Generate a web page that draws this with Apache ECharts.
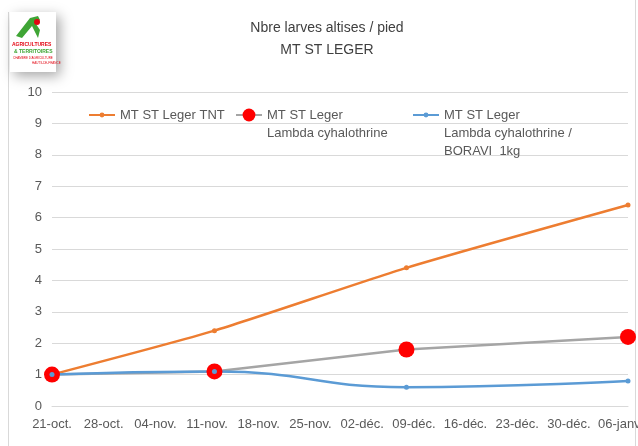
<!DOCTYPE html>
<html>
<head>
<meta charset="utf-8">
<script src="https://cdn.jsdelivr.net/npm/echarts@6/dist/echarts.min.js"></script>
<style>
  html, body { margin: 0; padding: 0; background: #fff; }
  #chart { width: 638px; height: 446px; }
</style>
</head>
<body>
<div id="chart"></div>
<script>
// ---- Data ----
const titleLines = ['Nbre larves altises / pied', 'MT ST LEGER'];
const xTickLabels = ['21-oct.', '28-oct.', '04-nov.', '11-nov.', '18-nov.', '25-nov.', '02-déc.', '09-déc.', '16-déc.', '23-déc.', '30-déc.', '06-janv.'];
const sampleDates = ['2019-10-21', '2019-11-12', '2019-12-08', '2020-01-07'];
const seriesNames = [
  'MT ST Leger TNT',
  'MT ST Leger\nLambda cyhalothrine',
  'MT ST Leger\nLambda cyhalothrine /\nBORAVI  1kg'
];
const tntValues = [1, 2.4, 4.4, 6.4];
const lambdaValues = [1, 1.1, 1.8, 2.2];
const boraviValues = [1, 1.1, 0.6, 0.8];
const yTicks = { min: 0, max: 10, interval: 1 };

// ---- Helpers ----
const DAY = 24 * 3600 * 1000;
const t0 = Date.parse(sampleDates[0]);
const dayOffsets = sampleDates.map(d => Math.round((Date.parse(d) - t0) / DAY));
const pairs = vals => vals.map((v, i) => [dayOffsets[i], v]);
const FONT = '"Liberation Sans Narrow", "Liberation Sans", sans-serif';

const chart = echarts.init(document.getElementById('chart'), null, { renderer: 'canvas' });

const legendBase = (idx, left, top, itemHeight, pre) => ({
  data: [seriesNames[idx]],
  left: left, top: top, padding: 0,
  itemWidth: 26, itemHeight: itemHeight,
  formatter: name => pre + name,
  textStyle: { fontFamily: FONT, fontSize: 13, color: '#595959', lineHeight: 18 },
  selectedMode: false
});

chart.setOption({
  animation: false,
  backgroundColor: '#fff',
  title: {
    text: titleLines.join('\n'),
    left: 322, top: 12, textAlign: 'center',
    textStyle: { fontFamily: FONT, fontSize: 14, fontWeight: 'normal', color: '#404040', lineHeight: 22 }
  },
  graphic: [
    { type: 'line', shape: { x1: 8.5, y1: 12, x2: 8.5, y2: 446 }, style: { stroke: '#D9D9D9', lineWidth: 1 }, z: -1 },
    { type: 'line', shape: { x1: 635.5, y1: 0, x2: 635.5, y2: 446 }, style: { stroke: '#D9D9D9', lineWidth: 1 }, z: -1 },
    {
      type: 'group', left: 10, top: 12, z: 10,
      children: [
        { type: 'rect', shape: { x: 0, y: 0, width: 46, height: 60 }, style: { fill: '#fff', shadowBlur: 12, shadowOffsetX: 4, shadowOffsetY: 4, shadowColor: 'rgba(0,0,0,0.35)' } },
        { type: 'polygon', shape: { points: [[6, 24], [20, 6], [28, 4], [30, 8], [26, 12], [30, 18], [28, 26], [22, 14], [12, 26]] }, style: { fill: '#3FA535' } },
        { type: 'circle', shape: { cx: 27, cy: 10, r: 3 }, style: { fill: '#E30613' } },
        { type: 'text', style: { x: 2, y: 30, text: 'AGRICULTURES', fontSize: 5, fontWeight: 'bold', fill: '#E30613', fontFamily: FONT } },
        { type: 'text', style: { x: 4, y: 37, text: '& TERRITOIRES', fontSize: 5, fontWeight: 'bold', fill: '#3FA535', fontFamily: FONT } },
        { type: 'text', style: { x: 3, y: 45, text: 'CHAMBRE D\'AGRICULTURE', fontSize: 3, fill: '#E30613', fontFamily: FONT } },
        { type: 'text', style: { x: 22, y: 50, text: 'HAUTS-DE-FRANCE', fontSize: 3, fill: '#E30613', fontFamily: FONT } }
      ]
    }
  ],
  legend: [
    legendBase(0, 88, 106, 6, ''),
    legendBase(1, 235, 88, 16, '\n'),
    legendBase(2, 412, 70, 6, '\n\n')
  ],
  grid: { left: 52, right: 10, top: 92, bottom: 40, containLabel: false, outerBoundsMode: 'none' },
  xAxis: {
    type: 'value', min: 0, max: 78, interval: 7,
    axisLine: { show: true, lineStyle: { color: '#D9D9D9', width: 1 } },
    axisTick: { show: false },
    splitLine: { show: false },
    axisLabel: {
      margin: 12,
      fontFamily: FONT, fontSize: 13, color: '#595959',
      formatter: v => (v % 7 === 0 ? (xTickLabels[v / 7] || '') : '')
    }
  },
  yAxis: {
    type: 'value', min: yTicks.min, max: yTicks.max, interval: yTicks.interval,
    axisLine: { show: false }, axisTick: { show: false },
    splitLine: { lineStyle: { color: '#D9D9D9', width: 1 } },
    axisLabel: { margin: 10, fontFamily: FONT, fontSize: 13, color: '#595959' }
  },
  series: [
    {
      name: seriesNames[0], type: 'line', data: pairs(tntValues),
      smooth: 0.2, symbol: 'circle', symbolSize: 5,
      lineStyle: { color: '#ED7D31', width: 2.5 },
      itemStyle: { color: '#ED7D31' }
    },
    {
      name: seriesNames[1], type: 'line', data: pairs(lambdaValues),
      smooth: false, symbol: 'circle', symbolSize: 16,
      lineStyle: { color: '#A5A5A5', width: 2.5 },
      itemStyle: { color: '#FF0000' }
    },
    {
      name: seriesNames[2], type: 'line', data: pairs(boraviValues),
      smooth: 0.5, symbol: 'circle', symbolSize: 5,
      lineStyle: { color: '#5B9BD5', width: 2.5 },
      itemStyle: { color: '#5B9BD5' }
    }
  ]
});
</script>
</body>
</html>
